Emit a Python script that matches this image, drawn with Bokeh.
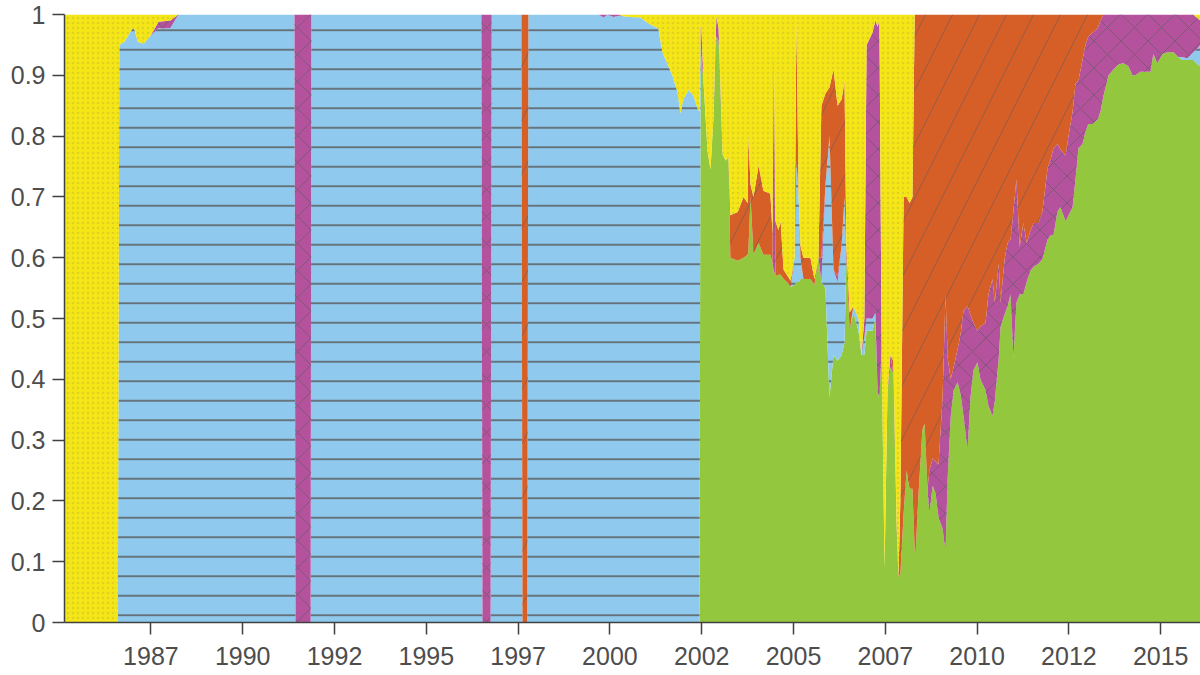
from bokeh.plotting import figure
from bokeh.models import ColumnDataSource, FixedTicker, Range1d
from bokeh.embed import file_html
from bokeh.resources import INLINE

# ---------------- data (shares) ----------------
years = [
    1985.15, 1986.60, 1986.64, 1986.78, 1987.03, 1987.14, 1987.30, 1987.49, 1987.71, 1987.84,
    1988.03, 1988.25, 1991.41, 1991.44, 1991.85, 1991.87, 1996.50, 1996.53, 1996.75, 1996.78,
    1997.59, 1997.62, 1997.75, 1997.78, 1999.69, 1999.83, 1999.93, 2000.10, 2000.23, 2000.37,
    2000.56, 2000.83, 2001.05, 2001.32, 2001.43, 2001.57, 2001.70, 2001.79, 2001.84, 2001.92,
    2002.00, 2002.14, 2002.28, 2002.39, 2002.44, 2002.47, 2002.49, 2002.55, 2002.66, 2002.74,
    2002.82, 2002.90, 2002.96, 2003.07, 2003.15, 2003.23, 2003.28, 2003.48, 2003.64, 2003.75,
    2003.77, 2003.83, 2003.91, 2004.05, 2004.18, 2004.37, 2004.43, 2004.46, 2004.51, 2004.59,
    2004.65, 2004.73, 2004.84, 2004.92, 2005.03, 2005.08, 2005.14, 2005.19, 2005.27, 2005.46,
    2005.57, 2005.68, 2005.76, 2005.87, 2005.98, 2006.09, 2006.20, 2006.31, 2006.39, 2006.44,
    2006.53, 2006.63, 2006.77, 2006.85, 2006.93, 2006.99, 2007.15, 2007.23, 2007.29, 2007.34,
    2007.40, 2007.48, 2007.56, 2007.64, 2007.72, 2007.81, 2007.86, 2007.91, 2008.00, 2008.08,
    2008.16, 2008.24, 2008.30, 2008.32, 2008.40, 2008.51, 2008.57, 2008.65, 2008.70, 2008.79,
    2008.87, 2008.95, 2009.06, 2009.14, 2009.20, 2009.28, 2009.36, 2009.47, 2009.55, 2009.63,
    2009.74, 2009.82, 2009.90, 2010.01, 2010.09, 2010.23, 2010.31, 2010.42, 2010.48, 2010.59,
    2010.64, 2010.75, 2010.83, 2010.91, 2010.99, 2011.07, 2011.16, 2011.26, 2011.35, 2011.45,
    2011.54, 2011.67, 2011.78, 2011.92, 2012.00, 2012.08, 2012.19, 2012.27, 2012.41, 2012.49,
    2012.60, 2012.68, 2012.76, 2012.87, 2012.95, 2013.03, 2013.14, 2013.28, 2013.36, 2013.44,
    2013.58, 2013.72, 2013.85, 2013.99, 2014.12, 2014.23, 2014.31, 2014.45, 2014.72, 2014.80,
    2014.91, 2015.05, 2015.19, 2015.35, 2015.48, 2015.59, 2015.73, 2015.89, 2016.00, 2016.08,
]

green = [
    0, 0, 0, 0, 0, 0, 0, 0, 0, 0,
    0, 0, 0, 0, 0, 0, 0, 0, 0, 0,
    0, 0, 0, 0, 0, 0, 0, 0, 0, 0,
    0, 0, 0, 0, 0, 0, 0, 0, 0, 0,
    0, 0, 0, 0, 0, 0.96, 0.93, 0.89, 0.775, 0.745,
    0.83, 0.964, 0.957, 0.77, 0.76, 0.765, 0.60, 0.595, 0.60, 0.605,
    0.61, 0.70, 0.605, 0.624, 0.605, 0.605, 0.59, 0.58, 0.57, 0.572,
    0.572, 0.565, 0.559, 0.552, 0.555, 0.56, 0.56, 0.565, 0.565, 0.565,
    0.555, 0.60, 0.56, 0.55, 0.37, 0.44, 0.43, 0.44, 0.46, 0.60,
    0.48, 0.51, 0.48, 0.44, 0.44, 0.48, 0.48, 0.50, 0.38, 0.37,
    0.45, 0.09, 0.38, 0.42, 0.41, 0.15, 0.075, 0.08, 0.18, 0.25,
    0.22, 0.22, 0.12, 0.108, 0.206, 0.317, 0.327, 0.22, 0.18, 0.225,
    0.212, 0.173, 0.154, 0.118, 0.24, 0.337, 0.382, 0.395, 0.376, 0.34,
    0.284, 0.37, 0.415, 0.428, 0.40, 0.382, 0.356, 0.34, 0.363, 0.435,
    0.487, 0.507, 0.52, 0.54, 0.435, 0.526, 0.54, 0.54, 0.56, 0.578,
    0.585, 0.59, 0.598, 0.63, 0.637, 0.637, 0.676, 0.683, 0.66, 0.67,
    0.683, 0.729, 0.78, 0.787, 0.807, 0.82, 0.82, 0.827, 0.84, 0.866,
    0.90, 0.91, 0.918, 0.92, 0.915, 0.90, 0.90, 0.906, 0.906, 0.935,
    0.92, 0.935, 0.938, 0.938, 0.93, 0.925, 0.925, 0.925, 0.918, 0.915,
]

blue = [
    0, 0, 0.95, 0.955, 0.98, 0.955, 0.952, 0.965, 0.978, 0.977,
    0.978, 1, 1, 0, 0, 1, 1, 0, 0, 1,
    1, 0, 0, 1, 1, 0.995, 1, 0.996, 0.998, 0.997,
    0.996, 0.995, 0.985, 0.977, 0.938, 0.918, 0.90, 0.882, 0.873, 0.837,
    0.86, 0.876, 0.866, 0.845, 0.84, 0, 0, 0, 0, 0,
    0, 0, 0, 0, 0, 0, 0, 0, 0, 0,
    0, 0, 0, 0, 0, 0, 0, 0, 0, 0,
    0, 0, 0, 0, 0.045, 0.20, 0.14, 0.035, 0, 0,
    0, 0, 0, 0.17, 0.43, 0.14, 0.13, 0.18, 0.24, 0,
    0, 0.01, 0.02, 0, 0.03, 0.02, 0.02, 0.01, 0, 0,
    0, 0, 0, 0, 0, 0, 0, 0, 0, 0,
    0, 0, 0, 0, 0, 0, 0, 0, 0, 0,
    0, 0, 0, 0, 0, 0, 0, 0, 0, 0,
    0, 0, 0, 0, 0, 0, 0, 0, 0, 0,
    0, 0, 0, 0, 0, 0, 0, 0, 0, 0,
    0, 0, 0, 0, 0, 0, 0, 0, 0, 0,
    0, 0, 0, 0, 0, 0, 0, 0, 0, 0,
    0, 0, 0, 0, 0, 0, 0, 0, 0, 0,
    0, 0, 0, 0, 0, 0.005, 0.003, 0.013, 0.026, 0.035,
]

purple = [
    0, 0, 0, 0, 0, 0, 0, 0, 0.01, 0.012,
    0.012, 0, 0, 1, 1, 0, 0, 1, 1, 0,
    0, 0, 0, 0, 0, 0.005, 0, 0.004, 0.002, 0,
    0, 0, 0, 0, 0, 0, 0, 0, 0, 0,
    0, 0, 0, 0, 0, 0.02, 0.05, 0, 0, 0,
    0, 0.033, 0.02, 0, 0, 0, 0, 0, 0, 0,
    0, 0, 0, 0, 0, 0, 0, 0.35, 0, 0,
    0, 0, 0, 0, 0, 0, 0, 0, 0, 0,
    0, 0, 0.04, 0, 0, 0, 0.01, 0, 0, 0,
    0, 0, 0, 0, 0.03, 0.45, 0.47, 0.48, 0.60, 0.62,
    0, 0, 0, 0.02, 0, 0, 0, 0, 0, 0,
    0, 0, 0, 0, 0, 0, 0, 0, 0.07, 0.045,
    0.053, 0.087, 0.216, 0.422, 0.195, 0.063, 0.038, 0.055, 0.098, 0.173,
    0.236, 0.136, 0.078, 0.052, 0.087, 0.111, 0.184, 0.225, 0.163, 0.155,
    0.039, 0.091, 0.104, 0.09, 0.242, 0.203, 0.078, 0.117, 0.064, 0.066,
    0.072, 0.067, 0.078, 0.118, 0.124, 0.143, 0.111, 0.095, 0.108, 0.13,
    0.157, 0.157, 0.112, 0.138, 0.143, 0.144, 0.15, 0.15, 0.15, 0.134,
    0.10, 0.09, 0.082, 0.08, 0.085, 0.10, 0.10, 0.094, 0.094, 0.065,
    0.08, 0.065, 0.062, 0.062, 0.07, 0.07, 0.072, 0.062, 0.05, 0.04,
]

orange = [
    0, 0, 0, 0, 0, 0, 0, 0, 0, 0,
    0, 0, 0, 0, 0, 0, 0, 0, 0, 0,
    0, 1, 1, 0, 0, 0, 0, 0, 0, 0,
    0, 0, 0, 0, 0, 0, 0, 0, 0, 0,
    0, 0, 0, 0, 0, 0, 0, 0, 0, 0,
    0, 0, 0, 0, 0, 0, 0.07, 0.08, 0.10, 0.085,
    0.19, 0.02, 0.095, 0.128, 0.105, 0.10, 0.05, 0.04, 0.09, 0.073,
    0.088, 0.015, 0.011, 0.01, 0, 0.23, 0, 0.02, 0.035, 0.035,
    0.01, 0, 0.25, 0.15, 0.08, 0.33, 0.28, 0.24, 0.19, 0.02,
    0.03, 0, 0, 0, 0, 0, 0, 0, 0, 0,
    0, 0, 0, 0, 0.02, 0.01, 0, 0.12, 0.52, 0.45,
    0.47, 0.48, 0.88, 0.892, 0.794, 0.683, 0.673, 0.78, 0.75, 0.73,
    0.735, 0.74, 0.63, 0.46, 0.565, 0.60, 0.58, 0.55, 0.526, 0.487,
    0.48, 0.494, 0.507, 0.52, 0.513, 0.507, 0.46, 0.435, 0.474, 0.41,
    0.474, 0.402, 0.376, 0.37, 0.323, 0.271, 0.382, 0.343, 0.376, 0.356,
    0.343, 0.343, 0.324, 0.252, 0.239, 0.22, 0.213, 0.222, 0.232, 0.20,
    0.16, 0.114, 0.108, 0.075, 0.05, 0.036, 0.03, 0.023, 0.01, 0,
    0, 0, 0, 0, 0, 0, 0, 0, 0, 0,
    0, 0, 0, 0, 0, 0, 0, 0, 0, 0,
]

yellow = [
    1, 1, 0.05, 0.045, 0.02, 0.045, 0.048, 0.035, 0.012, 0.011,
    0.01, 0, 0, 0, 0, 0, 0, 0, 0, 0,
    0, 0, 0, 0, 0, 0, 0, 0, 0, 0.003,
    0.004, 0.005, 0.015, 0.023, 0.062, 0.082, 0.10, 0.118, 0.127, 0.163,
    0.14, 0.124, 0.134, 0.155, 0.16, 0.02, 0.02, 0.11, 0.225, 0.255,
    0.17, 0.003, 0.023, 0.23, 0.24, 0.235, 0.33, 0.325, 0.30, 0.31,
    0.20, 0.28, 0.30, 0.248, 0.29, 0.295, 0.36, 0.03, 0.34, 0.355,
    0.34, 0.42, 0.43, 0.438, 0.40, 0.01, 0.30, 0.38, 0.40, 0.40,
    0.435, 0.40, 0.15, 0.13, 0.12, 0.09, 0.15, 0.14, 0.11, 0.38,
    0.49, 0.48, 0.50, 0.56, 0.50, 0.05, 0.03, 0.01, 0.02, 0.01,
    0.55, 0.91, 0.62, 0.56, 0.57, 0.84, 0.925, 0.80, 0.30, 0.30,
    0.31, 0.30, 0, 0, 0, 0, 0, 0, 0, 0,
    0, 0, 0, 0, 0, 0, 0, 0, 0, 0,
    0, 0, 0, 0, 0, 0, 0, 0, 0, 0,
    0, 0, 0, 0, 0, 0, 0, 0, 0, 0,
    0, 0, 0, 0, 0, 0, 0, 0, 0, 0,
    0, 0, 0, 0, 0, 0, 0, 0, 0, 0,
    0, 0, 0, 0, 0, 0, 0, 0, 0, 0,
    0, 0, 0, 0, 0, 0, 0, 0, 0.006, 0.01,
]

series_names = ["green", "blue", "purple", "orange", "yellow"]
series_colors = ["#93c83e", "#8fc9ee", "#b5529d", "#d55f27", "#f5e617"]

xtick_values = [1987.5, 1990, 1992.5, 1995, 1997.5, 2000, 2002.5, 2005, 2007.5, 2010, 2012.5, 2015]
xtick_labels = ["1987", "1990", "1992", "1995", "1997", "2000", "2002", "2005", "2007", "2010", "2012", "2015"]
ytick_values = [0, 0.1, 0.2, 0.3, 0.4, 0.5, 0.6, 0.7, 0.8, 0.9, 1]
ytick_labels = ["0", "0.1", "0.2", "0.3", "0.4", "0.5", "0.6", "0.7", "0.8", "0.9", "1"]

# ---------------- build ----------------
cols = [green, blue, purple, orange, yellow]
totals = [sum(c[i] for c in cols) for i in range(len(years))]
data = {"year": years}
for name, col in zip(series_names, cols):
    data[name] = [v / t for v, t in zip(col, totals)]
source = ColumnDataSource(data)

p = figure(frame_width=1136, frame_height=608,
           x_range=Range1d(1985.147, 2016.084), y_range=Range1d(0, 1),
           output_backend="svg", toolbar_location=None,
           min_border_left=64, min_border_right=0, min_border_top=14, min_border_bottom=53)
p.background_fill_color = "white"
p.border_fill_color = "white"
p.outline_line_color = None
p.xgrid.visible = False
p.ygrid.visible = False

p.varea_stack(stackers=series_names, x="year", source=source,
              fill_color=series_colors,
              hatch_pattern=[" ", "-", "x", "/", "."],
              hatch_color=["#555555", "#5a5a5a", "#6a5a66", "#7a5a50", "#8a8a50"],
              hatch_alpha=[0.0, 0.95, 0.7, 0.7, 0.22],
              hatch_scale=[10, 19.5, 27, 54, 5],
              hatch_weight=[1, 1.6, 1.0, 1.0, 0.5])

axis_col = "#404040"
for ax in (p.xaxis[0], p.yaxis[0]):
    ax.axis_line_color = axis_col
    ax.axis_line_width = 1.5
    ax.major_tick_line_color = axis_col
    ax.major_tick_line_width = 1.5
    ax.major_tick_out = 12
    ax.major_tick_in = 0
    ax.minor_tick_line_color = None
    ax.major_label_text_font = "Liberation Sans"
    ax.major_label_text_font_size = "25px"
    ax.major_label_text_color = "#4d4d4d"

p.xaxis[0].ticker = FixedTicker(ticks=xtick_values)
p.xaxis[0].major_label_overrides = dict(zip(xtick_values, xtick_labels))
p.xaxis[0].major_label_standoff = 12
p.yaxis[0].ticker = FixedTicker(ticks=ytick_values)
p.yaxis[0].major_label_overrides = dict(zip(ytick_values, ytick_labels))
p.yaxis[0].major_label_standoff = 7

open("out.html", "w").write(file_html(p, INLINE))
